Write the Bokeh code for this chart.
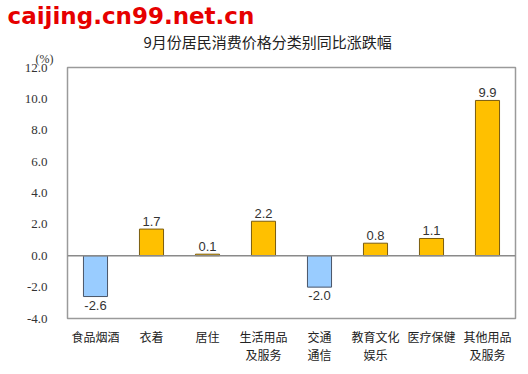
from bokeh.plotting import figure
from bokeh.models import ColumnDataSource, FixedTicker, PrintfTickFormatter, Title, Span, LabelSet
from bokeh.core.properties import value
from bokeh.embed import file_html
from bokeh.resources import INLINE

categories = ["食品烟酒", "衣着", "居住", "生活用品\n及服务", "交通\n通信", "教育文化\n娱乐", "医疗保健", "其他用品\n及服务"]
values = [-2.6, 1.7, 0.1, 2.2, -2.0, 0.8, 1.1, 9.9]
value_labels = ["-2.6", "1.7", "0.1", "2.2", "-2.0", "0.8", "1.1", "9.9"]
y_ticks = [-4.0, -2.0, 0.0, 2.0, 4.0, 6.0, 8.0, 10.0, 12.0]
title_text = "9月份居民消费价格分类别同比涨跌幅"
watermark = "caijing.cn99.net.cn"
unit_text = "(%)"

fill = ["#99CCFF" if v < 0 else "#FFC000" for v in values]
line = ["#4A5568" if v < 0 else "#7A5C10" for v in values]
offs = [-4 if v < 0 else 3 for v in values]
base = ["top" if v < 0 else "bottom" for v in values]

src = ColumnDataSource(dict(cat=categories, val=values, fill=fill, line=line,
                            lab=value_labels, off=offs, base=base))

p = figure(width=528, height=374, x_range=categories, y_range=(-4, 12),
           output_backend="svg", toolbar_location=None,
           min_border_left=67, min_border_right=13, min_border_top=10, min_border_bottom=56)
p.background_fill_color = "white"
p.border_fill_color = "white"
p.outline_line_color = "#9a9a9a"
p.outline_line_width = 1.5
p.xgrid.visible = False
p.ygrid.visible = False

p.add_layout(Title(text=unit_text, align="left", offset=-32, standoff=0,
                   vertical_align="top",
                   text_font="Liberation Serif", text_font_size="12px",
                   text_font_style="normal", text_color="#333333"), "above")
p.add_layout(Title(text=title_text, align="left", offset=76, standoff=0,
                   text_font="Noto Sans CJK SC", text_font_size="15px",
                   text_font_style="normal", text_color="#222222"), "above")
p.add_layout(Title(text=watermark, align="left", offset=-60, standoff=0,
                   text_font="DejaVu Sans", text_font_size="23px",
                   text_font_style="bold", text_color="#E60000"), "above")

p.vbar(x="cat", top="val", bottom=0, width=0.43, source=src,
       fill_color="fill", line_color="line", line_width=1)

p.add_layout(Span(location=0, dimension="width", line_color="#8a8a8a", line_width=1.5))

labels = LabelSet(x="cat", y="val", text="lab", source=src, y_offset="off",
                  text_align="center", text_baseline="base",
                  text_font=value("Liberation Sans"), text_font_size="13px",
                  text_color="#333333")
p.add_layout(labels)

p.yaxis.ticker = FixedTicker(ticks=y_ticks)
p.yaxis.formatter = PrintfTickFormatter(format="%.1f")
p.yaxis.major_label_text_font = "Liberation Serif"
p.yaxis.major_label_text_font_size = "13px"
p.yaxis.major_label_text_color = "#333333"
p.yaxis.axis_line_color = None
p.yaxis.major_tick_line_color = None
p.yaxis.minor_tick_line_color = None
p.yaxis.major_label_standoff = 14

p.xaxis.axis_line_color = None
p.xaxis.major_tick_line_color = None
p.xaxis.major_label_text_font = "Noto Sans CJK SC"
p.xaxis.major_label_text_font_size = "12px"
p.xaxis.major_label_text_color = "#222222"
p.xaxis.major_label_text_line_height = 1.1
p.xaxis.major_label_standoff = 3

open("out.html", "w").write(file_html(p, INLINE))
